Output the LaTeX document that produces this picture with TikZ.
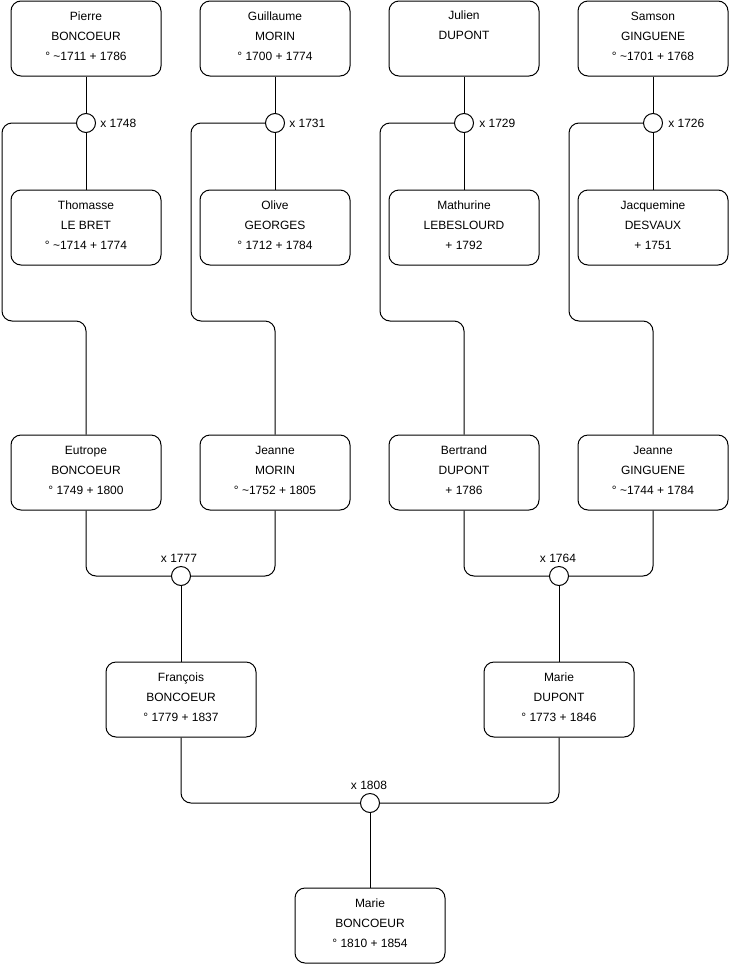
\documentclass[tikz,border=0pt]{standalone}
\usepackage{fontspec}
\setmainfont{Liberation Sans}
\newcommand\lowfix{\rule[-3pt]{0pt}{3pt}}
\begin{document}
\begin{tikzpicture}[x=0.75pt,y=-0.75pt,
  person/.style={draw, line width=0.75pt, rounded corners=7.5pt, minimum width=112.5pt, minimum height=56.25pt, align=center, inner sep=0pt, font=\fontsize{9}{15}\selectfont},
  union/.style={draw, circle, line width=0.75pt, minimum size=14.25pt, inner sep=0pt, fill=white},
  date/.style={font=\fontsize{9}{11}\selectfont, inner sep=0pt},
  link/.style={line width=0.75pt, rounded corners=7.5pt}]
\useasboundingbox (0,0) rectangle (740,975);
% generation 1
\node[person] (pierre) at (86,38.5) {Pierre\\BONCOEUR\\° \textasciitilde1711 + 1786\lowfix};
\node[person] (guillaume) at (275,38.5) {Guillaume\\MORIN\\° 1700 + 1774\lowfix};
\node[person] (julien) at (464,38.5) {Julien\\DUPONT\\\strut\lowfix};
\node[person] (samson) at (653,38.5) {Samson\\GINGUENE\\° \textasciitilde1701 + 1768\lowfix};
% spouses
\node[person] (thomasse) at (86,227.5) {Thomasse\\LE BRET\\° \textasciitilde1714 + 1774\lowfix};
\node[person] (olive) at (275,227.5) {Olive\\GEORGES\\° 1712 + 1784\lowfix};
\node[person] (mathurine) at (464,227.5) {Mathurine\\LEBESLOURD\\+ 1792\lowfix};
\node[person] (jacquemine) at (653,227.5) {Jacquemine\\DESVAUX\\+ 1751\lowfix};
% unions gen 1
\node[union] (u1) at (86,123) {};
\node[union] (u2) at (275,123) {};
\node[union] (u3) at (464,123) {};
\node[union] (u4) at (653,123) {};
\node[date, anchor=west] (d1) at (100,123) {x 1748};
\node[date, anchor=west] (d2) at (289,123) {x 1731};
\node[date, anchor=west] (d3) at (479,123) {x 1729};
\node[date, anchor=west] (d4) at (668,123) {x 1726};
% generation 2
\node[person] (eutrope) at (86,472.5) {Eutrope\\BONCOEUR\\° 1749 + 1800\lowfix};
\node[person] (jeanneM) at (275,472.5) {Jeanne\\MORIN\\° \textasciitilde1752 + 1805\lowfix};
\node[person] (bertrand) at (464,472.5) {Bertrand\\DUPONT\\+ 1786\lowfix};
\node[person] (jeanneG) at (653,472.5) {Jeanne\\GINGUENE\\° \textasciitilde1744 + 1784\lowfix};
% unions gen 2
\node[union] (u5) at (181,576) {};
\node[union] (u6) at (559,576) {};
\node[date] (d5) at (179,558) {x 1777};
\node[date] (d6) at (558,558) {x 1764};
% generation 3
\node[person] (francois) at (181,699.5) {François\\BONCOEUR\\° 1779 + 1837\lowfix};
\node[person] (marieD) at (559,699.5) {Marie\\DUPONT\\° 1773 + 1846\lowfix};
\node[union] (u7) at (370,803) {};
\node[date] (d7) at (369,785) {x 1808};
\node[person] (marieB) at (370,925.5) {Marie\\BONCOEUR\\° 1810 + 1854\lowfix};
% bend coordinates
\coordinate (b1) at (2,321);
\coordinate (b2) at (191,321);
\coordinate (b3) at (380,321);
\coordinate (b4) at (569,321);
% links gen 1
\foreach \p/\u/\s in {pierre/u1/thomasse, guillaume/u2/olive, julien/u3/mathurine, samson/u4/jacquemine}{
  \draw[link] (\p.south) -- (\u.north);
  \draw[link] (\u.south) -- (\s.north);
}
\draw[link] (u1.west) -| (b1) -| (eutrope.north);
\draw[link] (u2.west) -| (b2) -| (jeanneM.north);
\draw[link] (u3.west) -| (b3) -| (bertrand.north);
\draw[link] (u4.west) -| (b4) -| (jeanneG.north);
% links gen 2
\draw[link] (eutrope.south) |- (u5.west);
\draw[link] (jeanneM.south) |- (u5.east);
\draw[link] (u5.south) -- (francois.north);
\draw[link] (bertrand.south) |- (u6.west);
\draw[link] (jeanneG.south) |- (u6.east);
\draw[link] (u6.south) -- (marieD.north);
% links gen 3
\draw[link] (francois.south) |- (u7.west);
\draw[link] (marieD.south) |- (u7.east);
\draw[link] (u7.south) -- (marieB.north);
\end{tikzpicture}
\end{document}
